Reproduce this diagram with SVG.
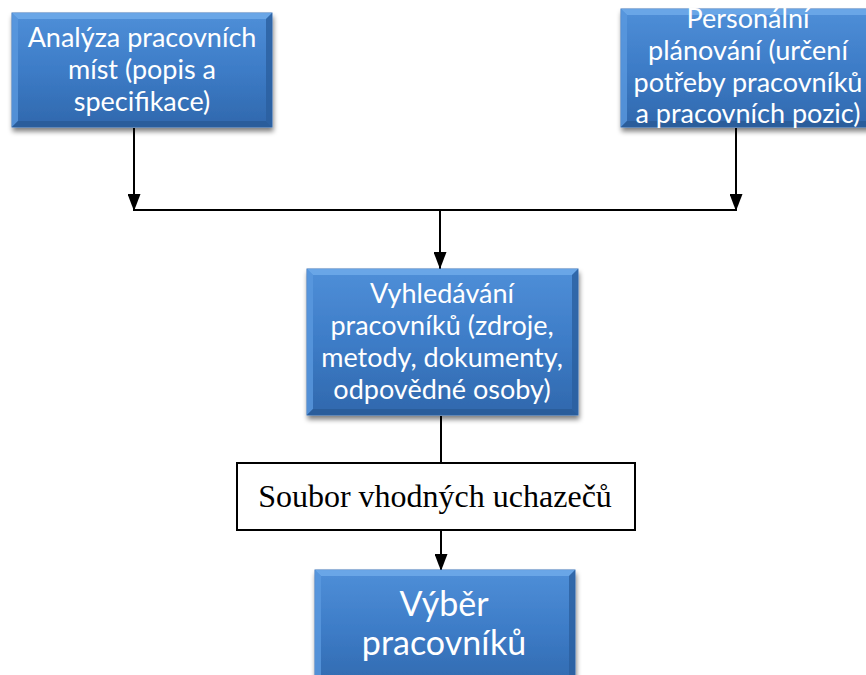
<svg xmlns="http://www.w3.org/2000/svg" width="866" height="675" viewBox="0 0 866 675">
<defs>
<linearGradient id="g" x1="0" y1="0" x2="0" y2="1">
<stop offset="0" stop-color="#4f8fd8"/>
<stop offset="0.5" stop-color="#3d7cc7"/>
<stop offset="1" stop-color="#3068ad"/>
</linearGradient>
<filter id="sh" x="-10%" y="-10%" width="125%" height="130%">
<feGaussianBlur in="SourceAlpha" stdDeviation="2.5"/>
<feOffset dx="1" dy="4" result="b"/>
<feComponentTransfer><feFuncA type="linear" slope="0.5"/></feComponentTransfer>
<feMerge><feMergeNode/><feMergeNode in="SourceGraphic"/></feMerge>
</filter>
<marker id="ah" markerWidth="17" markerHeight="13" refX="17" refY="6.5" orient="auto" markerUnits="userSpaceOnUse" viewBox="0 0 17 13">
<path d="M0,0 L17,6.5 L0,13 Z" fill="#000"/>
</marker>
</defs>
<style>
.box{fill:url(#g);stroke:#3a73b8;stroke-width:1;filter:url(#sh)}
.bvt{fill:#6eaaea;opacity:0.85}
.bvl{fill:#5a98de;opacity:0.8}
.bvr{fill:#2b5f9f;opacity:0.8}
.bvb{fill:#285a96;opacity:0.8}
.bt{font-family:Lato,"Open Sans","Liberation Sans",sans-serif;fill:#fff;text-anchor:middle;font-size:27px}
.big{font-size:34px}
.ln{stroke:#000;stroke-width:2;fill:none}
.wb{fill:#fff;stroke:#000;stroke-width:2}
.st{font-family:"Liberation Serif","Times New Roman",serif;font-size:32px;fill:#000;text-anchor:middle}
</style>
<g id="connectors">
<line class="ln" x1="134" y1="128" x2="134" y2="211" marker-end="url(#ah)"/>
<line class="ln" x1="736" y1="128" x2="736" y2="211" marker-end="url(#ah)"/>
<line class="ln" x1="134" y1="210" x2="736" y2="210"/>
<line class="ln" x1="440" y1="210" x2="440" y2="269" marker-end="url(#ah)"/>
<line class="ln" x1="441" y1="416" x2="441" y2="463"/>
<line class="ln" x1="441" y1="530" x2="441" y2="571" marker-end="url(#ah)"/>
</g>
<g id="n1">
<rect class="box" x="12" y="13" width="260" height="114"/>
<polygon class="bvt" points="12,13 272,13 266,19 18,19"/>
<polygon class="bvl" points="12,13 18,19 18,121 12,127"/>
<polygon class="bvr" points="272,13 272,127 266,121 266,19"/>
<polygon class="bvb" points="12,127 272,127 266,121 18,121"/>
<text class="bt" x="142" y="47">Analýza pracovních</text>
<text class="bt" x="142" y="79">míst (popis a</text>
<text class="bt" x="142" y="111">specifikace)</text>
</g>
<g id="n2">
<rect class="box" x="621" y="9" width="260" height="118"/>
<polygon class="bvt" points="621,9 881,9 875,15 627,15"/>
<polygon class="bvl" points="621,9 627,15 627,121 621,127"/>
<polygon class="bvb" points="621,127 881,127 875,121 627,121"/>
<text class="bt" x="748" y="28">Personální</text>
<text class="bt" x="748" y="60">plánování (určení</text>
<text class="bt" x="748" y="92">potřeby pracovníků</text>
<text class="bt" x="748" y="123">a pracovních pozic)</text>
</g>
<g id="n3">
<rect class="box" x="307" y="269" width="271" height="146"/>
<polygon class="bvt" points="307,269 578,269 572,275 313,275"/>
<polygon class="bvl" points="307,269 313,275 313,409 307,415"/>
<polygon class="bvr" points="578,269 578,415 572,409 572,275"/>
<polygon class="bvb" points="307,415 578,415 572,409 313,409"/>
<text class="bt" x="442" y="303">Vyhledávání</text>
<text class="bt" x="442" y="335">pracovníků (zdroje,</text>
<text class="bt" x="442" y="367">metody, dokumenty,</text>
<text class="bt" x="442" y="399">odpovědné osoby)</text>
</g>
<g id="n4">
<rect class="wb" x="237" y="463" width="398" height="67"/>
<text class="st" x="435" y="507">Soubor vhodných uchazečů</text>
</g>
<g id="n5">
<rect class="box" x="315" y="570" width="260" height="120"/>
<polygon class="bvt" points="315,570 575,570 569,576 321,576"/>
<polygon class="bvl" points="315,570 321,576 321,690 315,690"/>
<polygon class="bvr" points="575,570 575,690 569,690 569,576"/>
<text class="bt big" x="444" y="616">Výběr</text>
<text class="bt big" x="444" y="655">pracovníků</text>
</g>
</svg>
